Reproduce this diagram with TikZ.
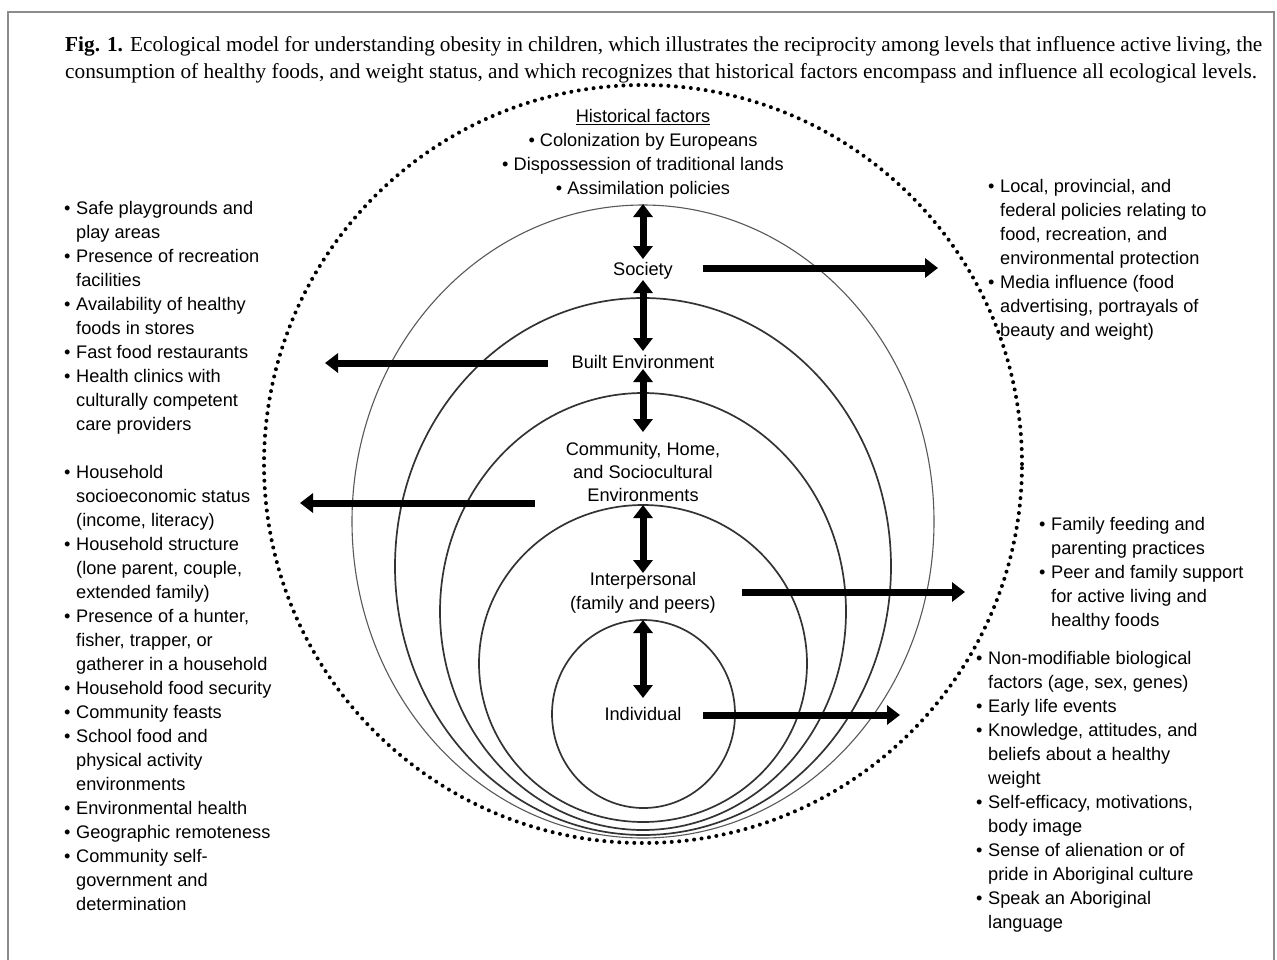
\documentclass[tikz,border=0pt]{standalone}
\usepackage{fontspec}
\setmainfont{Liberation Serif}
\newfontfamily\diagfont{Liberation Sans}
\usetikzlibrary{arrows.meta}
\newcommand\bitem{\makebox[12pt][l]{•}}
\newcommand\bcont{\hspace*{12pt}}
\begin{document}
\begin{tikzpicture}[x=1pt,y=-1pt,
  lbl/.style={font=\diagfont\fontsize{18.2}{24}\selectfont, inner sep=0pt, align=left, anchor=north west},
  ctr/.style={font=\diagfont\fontsize{18.2}{24}\selectfont, inner sep=0pt, align=center},
  ring/.style={draw=black!80, line width=1.7pt},
  thinring/.style={draw=black!65, line width=1.1pt},
  harrow/.style={line width=7pt, -{Triangle[width=19pt,length=13pt]}},
  varrow/.style={line width=7pt, {Triangle[width=19pt,length=13pt]}-{Triangle[width=19pt,length=13pt]}},
  captext/.style={inner sep=0pt, anchor=base west, font=\fontsize{21.3}{27}\selectfont}
]
\useasboundingbox (0,0) rectangle (1277,959);
\clip (0,0) rectangle (1277,959);
\fill[white] (0,0) rectangle (1277,959);
% frame
\draw[black!45, line width=1.3pt] (8,975) -- (8,12) -- (1274,12) -- (1274,975);

% caption
\node[captext] (cap1) at (65,51) {\makebox[1197pt][s]{\textbf{Fig. 1.} Ecological model for understanding obesity in children, which illustrates the reciprocity among levels that influence active living, the}};
\node[captext] (cap2) at (65,78) {consumption of healthy foods, and weight status, and which recognizes that historical factors encompass and influence all ecological levels.};

% rings
\draw[line width=4pt, line cap=round, dash pattern=on 0pt off 7.5pt] (643,464) circle [radius=379pt];
\draw[thinring] (643,521.5) ellipse [x radius=291pt, y radius=316.5pt];
\draw[ring] (643,566.5) ellipse [x radius=248pt, y radius=268.5pt];
\draw[ring] (643,611.5) ellipse [x radius=203pt, y radius=218.5pt];
\draw[ring] (643,663.5) ellipse [x radius=164pt, y radius=158.5pt];
\draw[ring] (643.5,714) ellipse [x radius=91.5pt, y radius=94pt];

% centre labels
\node[ctr, anchor=north] (hist) at (643,109) {\underline{Historical factors}\\ • Colonization by Europeans\\ • Dispossession of traditional lands\\ • Assimilation policies};
\node[ctr] (soc) at (643,271) {Society};
\node[ctr] (built) at (643,362) {Built Environment};
\node[ctr, font=\diagfont\fontsize{18.2}{23}\selectfont] (comm) at (643,472) {Community, Home,\\ and Sociocultural\\ Environments};
\node[ctr] (inter) at (643,593) {Interpersonal\\ (family and peers)};
\node[ctr] (indiv) at (643,714) {Individual};

% arrow end points
\coordinate (v1a) at (643,204); \coordinate (v1b) at (643,259);
\coordinate (v2a) at (643,280); \coordinate (v2b) at (643,351);
\coordinate (v3a) at (643,369); \coordinate (v3b) at (643,432);
\coordinate (v4a) at (643,505); \coordinate (v4b) at (643,573);
\coordinate (v5a) at (643,620); \coordinate (v5b) at (643,698);
\coordinate (h1a) at (703,268); \coordinate (h1b) at (938,268);
\coordinate (h2a) at (548,363); \coordinate (h2b) at (325,363);
\coordinate (h3a) at (535,503); \coordinate (h3b) at (300,503);
\coordinate (h4a) at (742,592); \coordinate (h4b) at (965,592);
\coordinate (h5a) at (703,715); \coordinate (h5b) at (900,715);

\draw[varrow] (v1a) -- (v1b);
\draw[varrow] (v2a) -- (v2b);
\draw[varrow] (v3a) -- (v3b);
\draw[varrow] (v4a) -- (v4b);
\draw[varrow] (v5a) -- (v5b);
\draw[harrow] (h1a) -- (h1b);
\draw[harrow] (h2a) -- (h2b);
\draw[harrow] (h3a) -- (h3b);
\draw[harrow] (h4a) -- (h4b);
\draw[harrow] (h5a) -- (h5b);

% side lists
\node[lbl] (L1) at (64,201) {\bitem Safe playgrounds and\\ \bcont play areas\\ \bitem Presence of recreation\\ \bcont facilities\\ \bitem Availability of healthy\\ \bcont foods in stores\\ \bitem Fast food restaurants\\ \bitem Health clinics with\\ \bcont culturally competent\\ \bcont care providers};

\node[lbl] (L2) at (64,465) {\bitem Household\\ \bcont socioeconomic status\\ \bcont (income, literacy)\\ \bitem Household structure\\ \bcont (lone parent, couple,\\ \bcont extended family)\\ \bitem Presence of a hunter,\\ \bcont fisher, trapper, or\\ \bcont gatherer in a household\\ \bitem Household food security\\ \bitem Community feasts\\ \bitem School food and\\ \bcont physical activity\\ \bcont environments\\ \bitem Environmental health\\ \bitem Geographic remoteness\\ \bitem Community self-\\ \bcont government and\\ \bcont determination};

\node[lbl] (R1) at (988,179) {\bitem Local, provincial, and\\ \bcont federal policies relating to\\ \bcont food, recreation, and\\ \bcont environmental protection\\ \bitem Media influence (food\\ \bcont advertising, portrayals of\\ \bcont beauty and weight)};

\node[lbl] (R2) at (1039,517) {\bitem Family feeding and\\ \bcont parenting practices\\ \bitem Peer and family support\\ \bcont for active living and\\ \bcont healthy foods};

\node[lbl] (R3) at (976,651) {\bitem Non-modifiable biological\\ \bcont factors (age, sex, genes)\\ \bitem Early life events\\ \bitem Knowledge, attitudes, and\\ \bcont beliefs about a healthy\\ \bcont weight\\ \bitem Self-efficacy, motivations,\\ \bcont body image\\ \bitem Sense of alienation or of\\ \bcont pride in Aboriginal culture\\ \bitem Speak an Aboriginal\\ \bcont language};
\end{tikzpicture}
\end{document}
